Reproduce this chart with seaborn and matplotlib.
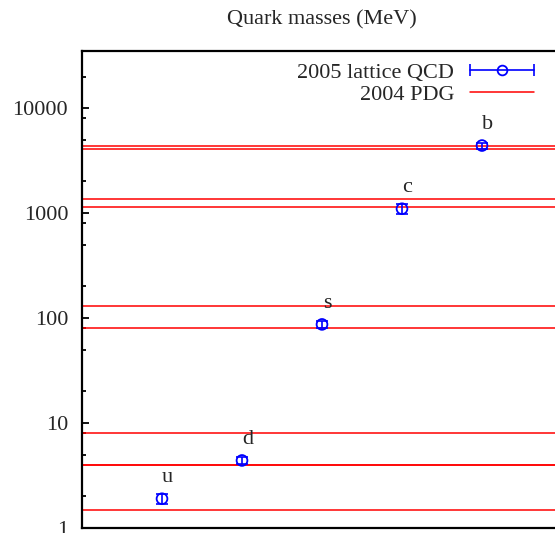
import numpy as np
import pandas as pd
import seaborn as sns
import matplotlib
matplotlib.use("Agg")
import matplotlib.pyplot as plt
from matplotlib.lines import Line2D
from matplotlib.legend_handler import HandlerLine2D, HandlerTuple
from matplotlib.ticker import LogLocator, FuncFormatter

# quark masses in MeV
quarks = ["u", "d", "s", "c", "b"]
lattice_mass = [1.9, 4.4, 87, 1100, 4400]
lattice_err = [0.2, 0.3, 6, 130, 300]
pdg_low = [1.5, 4, 80, 1150, 4100]
pdg_high = [4, 8, 130, 1350, 4400]

sns.set_style("ticks")
plt.rcParams["font.family"] = ["Liberation Serif", "DejaVu Serif"]
plt.rcParams["font.size"] = 16

df = pd.DataFrame({"pos": np.arange(1, len(quarks) + 1), "mass": lattice_mass,
                   "err": lattice_err, "quark": quarks})

fig = plt.figure(figsize=(5.55, 5.33), dpi=100)
ax = fig.add_axes([82 / 555, 5 / 533, 480 / 555, 477 / 533])

for lo, hi in zip(pdg_low, pdg_high):
    ax.axhline(lo, color="red", lw=1.1, zorder=2)
    ax.axhline(hi, color="red", lw=1.1, zorder=2)

ax.errorbar(df["pos"], df["mass"], yerr=df["err"], fmt="none", ecolor="blue",
            elinewidth=1.2, capsize=4, capthick=1.2, zorder=3)
sns.scatterplot(data=df, x="pos", y="mass", ax=ax, marker="o", s=60,
                facecolors="none", edgecolor="blue", linewidth=1.3, zorder=4)

for _, r in df.iterrows():
    ax.annotate(r["quark"], (r["pos"], r["mass"]), xytext=(4, 12),
                textcoords="offset points", ha="center", va="baseline")

ax.set_yscale("log")
ax.set_ylim(1, 35000)
ax.set_xlim(0, 6)
ax.set_xticks([])
ax.set_xlabel("")
ax.set_ylabel("")
ax.yaxis.set_major_locator(LogLocator(base=10, subs=[1.0]))
ax.yaxis.set_minor_locator(LogLocator(base=10, subs=[2, 5, 8]))
ax.yaxis.set_major_formatter(FuncFormatter(lambda v, _: f"{v:g}"))
ax.tick_params(axis="y", which="both", direction="in", left=True, right=True,
               color="black", width=1.3, pad=10, labelsize=16)
ax.tick_params(axis="y", which="major", length=5)
ax.tick_params(axis="y", which="minor", length=3)
for s in ax.spines.values():
    s.set_visible(True)
    s.set_linewidth(1.6)
    s.set_color("black")

ax.set_title("Quark masses (MeV)", fontsize=16, pad=19)

# gnuplot-like key
err_line = Line2D([], [], color="blue", lw=1.2, marker="o", mfc="none",
                  mec="blue", ms=7, mew=1.3)
err_caps = Line2D([], [], color="blue", lw=0, marker="|", ms=8, mew=1.2)
pdg_line = Line2D([], [], color="red", lw=1.1)
ax.legend([(err_line, err_caps), pdg_line], ["2005 lattice QCD", "2004 PDG"],
          handler_map={tuple: HandlerTuple(ndivide=1, pad=0),
                       err_caps: HandlerLine2D(numpoints=2, marker_pad=0)},
          markerfirst=False, frameon=False, loc="upper right",
          bbox_to_anchor=(0.942, 0.977), borderpad=0, borderaxespad=0,
          handlelength=2.9, handletextpad=0.7, labelspacing=0.08, fontsize=16)

fig.savefig("out.png", dpi=100)
